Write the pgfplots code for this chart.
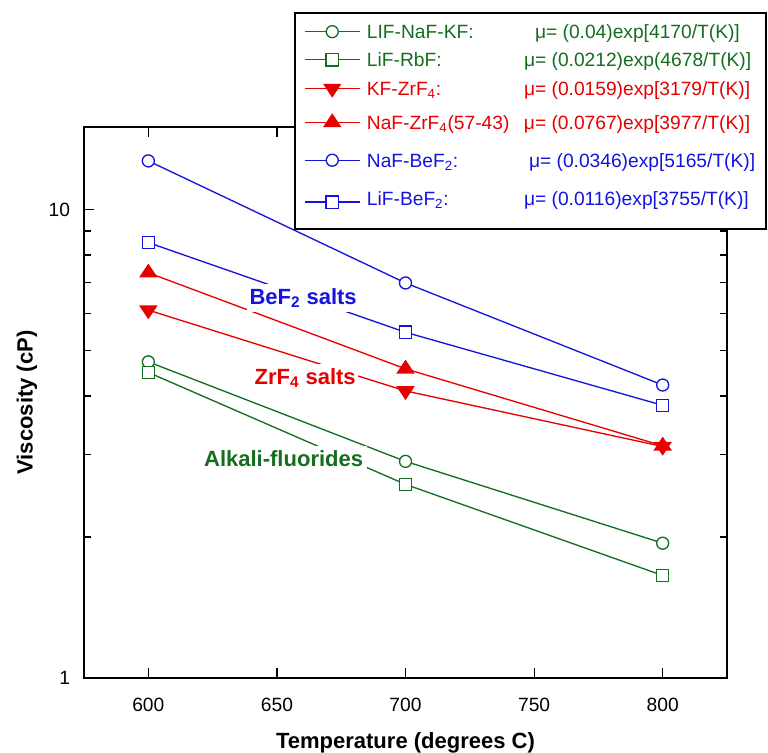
\documentclass[border=0pt]{standalone}
\usepackage{fontspec}
\setmainfont{Liberation Sans}
\usepackage{pgfplots}
\pgfplotsset{compat=1.18}
\definecolor{cg}{RGB}{20,110,30}
\definecolor{cr}{RGB}{230,0,0}
\definecolor{cb}{RGB}{20,20,220}
\newcommand{\lgfont}{\fontsize{14.4}{17}\selectfont}
\begin{document}
\begin{tikzpicture}
\begin{axis}[
  name=ax,
  scale only axis, width=482pt, height=413pt,
  xmin=575, xmax=825, ymin=1, ymax=15, ymode=log,
  xtick={600,650,700,750,800},
  xticklabels={600,650,700,750,800},
  ytick={1,10}, yticklabels={1,10},
  minor ytick={2,3,4,5,6,7,8,9},
  tick align=inside,
  major tick length=7.5pt, minor tick length=5pt,
  axis line style={line width=1.1pt},
  every tick/.style={black, line width=0.9pt},
  tick label style={font=\fontsize{14.4}{17}\selectfont},
  yticklabel style={xshift=-7pt},
  xticklabel style={yshift=-11.5pt},
  /pgf/number format/assume math mode=true,
  xlabel={Temperature (degrees C)},
  ylabel={Viscosity (cP)},
  label style={font=\fontsize{16.5}{19}\selectfont\bfseries},
  xlabel style={yshift=-8.5pt},
  ylabel style={yshift=1.75pt},
  legend cell align=left,
  legend image code/.code={\draw[mark repeat=2,mark phase=2] plot coordinates {(0pt,0pt) (20.5pt,0pt) (41pt,0pt)};},
  legend style={at={(rel axis cs:1.062,1.2087)}, anchor=north east,
    draw=black, line width=1.6pt, fill=white, inner xsep=7pt, inner ysep=3pt,
    row sep=0pt, font=\lgfont,
    nodes={inner sep=0pt}},
]
\addplot[cg, line width=1pt, mark=*, mark size=4.5pt, mark options={fill=white}]
  coordinates {(600,4.73) (700,2.90) (800,1.94)};
\addlegendentry[text height=16.1pt, text depth=5.7pt]{\color{cg}\hspace{5pt}\makebox[292pt][l]{\makebox[126pt][l]{LIF-NaF-KF:}μ= (0.04)exp[4170/T(K)]}}
\addplot[cg, line width=1pt, mark=square*, mark size=4.6pt, mark options={fill=white}]
  coordinates {(600,4.49) (700,2.59) (800,1.655)};
\addlegendentry[text height=15.3pt, text depth=4.9pt]{\color{cg}\hspace{5pt}\makebox[292pt][l]{\makebox[117.75pt][l]{LiF-RbF:}μ= (0.0212)exp(4678/T(K)]}}
\addplot[cr, line width=1pt, mark=triangle*, mark size=6pt, mark options={fill=cr, rotate=180, xscale=1.15}]
  coordinates {(600,6.1) (700,4.10) (800,3.12)};
\addlegendentry[text height=16.65pt, text depth=6.25pt]{\color{cr}\hspace{5pt}\makebox[292pt][l]{\makebox[117.75pt][l]{KF-ZrF\textsubscript{4}:}μ= (0.0159)exp[3179/T(K)]}}
\addplot[cr, line width=1pt, mark=triangle*, mark size=6pt, mark options={fill=cr, xscale=1.15}]
  coordinates {(600,7.33) (700,4.57) (800,3.13)};
\addlegendentry[text height=19.25pt, text depth=8.85pt]{\color{cr}\hspace{5pt}\makebox[292pt][l]{\makebox[117.75pt][l]{NaF-ZrF\textsubscript{4}(57-43)}μ= (0.0767)exp[3977/T(K)]}}
\addplot[cb, line width=1pt, mark=*, mark size=4.5pt, mark options={fill=white}]
  coordinates {(600,12.7) (700,6.97) (800,4.22)};
\addlegendentry[text height=19.45pt, text depth=9.05pt]{\color{cb}\hspace{5pt}\makebox[292pt][l]{\makebox[121.5pt][l]{NaF-BeF\textsubscript{2}:}μ= (0.0346)exp[5165/T(K)]}}
\addplot[cb, line width=1pt, mark=square*, mark size=4.6pt, mark options={fill=white}]
  coordinates {(600,8.5) (700,5.47) (800,3.82)};
\addlegendentry[text height=19.45pt, text depth=14.85pt]{\color{cb}\hspace{5pt}\makebox[292pt][l]{\makebox[117.75pt][l]{LiF-BeF\textsubscript{2}:}μ= (0.0116)exp[3755/T(K)]}}
\node[fill=white, text=cb, inner xsep=2pt, inner ysep=3pt, font=\fontsize{16.5}{19}\selectfont\bfseries] at (axis cs:660.2,6.47) {BeF\textsubscript{2} salts};
\node[fill=white, text=cr, inner xsep=2pt, inner ysep=3pt, font=\fontsize{16.5}{19}\selectfont\bfseries] at (axis cs:661,4.37) {ZrF\textsubscript{4} salts};
\node[fill=white, text=cg, inner xsep=3pt, inner ysep=3pt, font=\fontsize{16.5}{19}\selectfont\bfseries] at (axis cs:652.6,2.94) {Alkali-fluorides};
\end{axis}
\pgfresetboundingbox
\path ([xshift=-63pt,yshift=-56.25pt]ax.south west) ([xshift=30.75pt,yshift=95.25pt]ax.north east);
\end{tikzpicture}
\end{document}
